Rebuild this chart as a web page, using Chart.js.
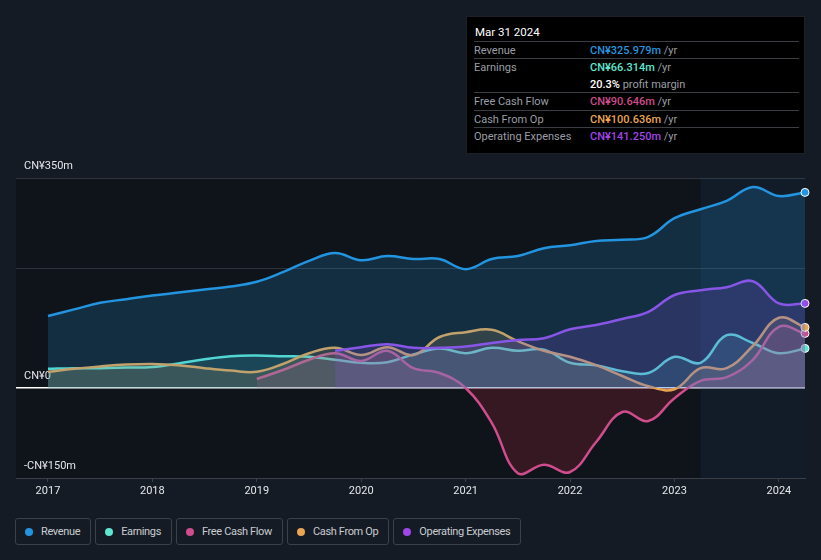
<!DOCTYPE html>
<html>
<head>
<meta charset="utf-8">
<script src="https://cdn.jsdelivr.net/npm/chart.js@4.4.1/dist/chart.umd.min.js"></script>
<style>
  html, body { margin: 0; padding: 0; background: #151b24; font-family: Roboto, 'Open Sans', sans-serif; }
  #wrap { position: relative; width: 821px; height: 560px; overflow: hidden; }
  #box { position: absolute; left: 0; top: 0; width: 821px; height: 505px; }
  #tip { position: absolute; left: 466px; top: 16px; width: 339px; height: 138px; background: #000; box-sizing: border-box; border: 1px solid #1d2127; }
  #tip .head { position: absolute; left: 8px; top: 8px; color: #fff; font-size: 11.5px; }
  #tip .row { position: absolute; left: 7px; width: 325px; height: 17px; font-size: 11px; line-height: 17px; color: #9a9ea5; border-top: 1px solid #3a3d42; }
  #tip .row.nob { border-top: none; }
  #tip .row .v { position: absolute; left: 116px; top: 0; }
  #tip .row .u { color: #9a9ea5; }
  #legend { position: absolute; left: 15px; top: 518px; display: flex; gap: 4px; }
  .lg { height: 27px; box-sizing: border-box; border: 1px solid #3b404a; border-radius: 3px; display: flex; align-items: center; padding: 0 10px 0 9px; color: #c9ccd1; font-size: 11px; letter-spacing: -0.35px; }
  .lg i { width: 8px; height: 8px; border-radius: 50%; display: inline-block; margin-right: 8px; }
</style>
</head>
<body>
<div id="wrap">
  <div id="box"><canvas id="myChart"></canvas></div>
  <div id="tip">
    <div class="head">Mar 31 2024</div>
    <div class="row" style="top:24px">Revenue<span class="v"><b style="color:#2394df;font-weight:500">CN¥325.979m</b> <span class="u">/yr</span></span></div>
    <div class="row" style="top:41px">Earnings<span class="v"><b style="color:#5ee6cf;font-weight:500">CN¥66.314m</b> <span class="u">/yr</span></span></div>
    <div class="row nob" style="top:59px"><span class="v"><b style="color:#fff;font-weight:500">20.3%</b> <span class="u">profit margin</span></span></div>
    <div class="row" style="top:75px">Free Cash Flow<span class="v"><b style="color:#cf4d8c;font-weight:500">CN¥90.646m</b> <span class="u">/yr</span></span></div>
    <div class="row" style="top:93px">Cash From Op<span class="v"><b style="color:#e9a550;font-weight:500">CN¥100.636m</b> <span class="u">/yr</span></span></div>
    <div class="row" style="top:110px">Operating Expenses<span class="v"><b style="color:#a046e8;font-weight:500">CN¥141.250m</b> <span class="u">/yr</span></span></div>
  </div>
  <div id="legend">
    <div class="lg"><i style="background:#2394df"></i>Revenue</div>
    <div class="lg"><i style="background:#5ee6cf"></i>Earnings</div>
    <div class="lg"><i style="background:#cf4d8c"></i>Free Cash Flow</div>
    <div class="lg"><i style="background:#e9a550"></i>Cash From Op</div>
    <div class="lg"><i style="background:#a046e8"></i>Operating Expenses</div>
  </div>
</div>
<script>
// quarterly points, CN¥m
const quarters = [2017.0, 2017.25, 2017.5, 2017.75, 2018.0, 2018.25, 2018.5, 2018.75,
  2019.0, 2019.25, 2019.5, 2019.75, 2020.0, 2020.25, 2020.5, 2020.75,
  2021.0, 2021.25, 2021.5, 2021.75, 2022.0, 2022.25, 2022.5, 2022.75,
  2023.0, 2023.25, 2023.5, 2023.75, 2024.0, 2024.25];
const revenue = [120, 131, 142, 148, 154, 159, 164, 169, 177, 193, 212, 225, 213, 220, 215, 215,
  198, 215, 220, 233, 238, 245, 247, 252, 283, 298, 312, 335, 320, 326];
const earnings = [32, 33, 33, 34, 35, 41, 48, 53, 54, 53, 52, 47, 42, 43, 56, 66,
  58, 67, 62, 64, 42, 38, 28, 25, 52, 42, 88, 75, 58, 66];
const freeCashFlow = [null, null, null, null, null, null, null, null, 15, 30, 47, 58, 45, 62, 33, 25,
  0, -58, -142, -128, -140, -90, -40, -55, -17, 12, 18, 47, 102, 91];
const cashFromOp = [27, 32, 36, 39, 40, 38, 33, 29, 27, 40, 58, 67, 55, 68, 55, 85,
  93, 97, 78, 62, 52, 38, 20, 3, -2, 33, 33, 70, 117, 101];
const opExpenses = [null, null, null, null, null, null, null, null, null, null, null, 62, 68, 73, 67, 67,
  69, 75, 80, 83, 98, 105, 115, 127, 155, 163, 168, 178, 141, 141];
const yearTicks = [2017, 2018, 2019, 2020, 2021, 2022, 2023, 2024];
const yTicks = [-150, 0, 200, 350];
const yLabels = { '-150': '-CN¥150m', '0': 'CN¥0', '350': 'CN¥350m' };
const pastYearStart = 2023.25;

(() => {
  'use strict';

  const last = quarters.length - 1;
  const pts = (vals) => quarters.map((q, i) => ({ x: q, y: vals[i] }));

  const series = (label, vals, color, fillColor, belowColor) => ({
    label: label,
    data: pts(vals),
    borderColor: color,
    backgroundColor: fillColor,
    borderWidth: 2.5,
    tension: 0.4,
    fill: { target: 'origin', above: fillColor, below: belowColor || fillColor },
    clip: false,
    pointRadius: (c) => (c.dataIndex === last ? 4 : 0),
    pointBackgroundColor: color,
    pointBorderColor: '#ffffff',
    pointBorderWidth: 1
  });

  // chart area background + last-year band
  const bgPlugin = {
    id: 'bg',
    beforeDatasetsDraw(chart) {
      const { ctx, chartArea: a, scales } = chart;
      ctx.save();
      const x0 = scales.x.getPixelForValue(pastYearStart);
      ctx.fillStyle = 'rgba(35, 90, 140, 0.13)';
      ctx.fillRect(x0, a.top, a.right - x0, a.bottom - a.top);
      ctx.restore();
    },
    beforeDraw(chart) {
      const { ctx, chartArea: a } = chart;
      ctx.save();
      ctx.fillStyle = '#0f131a';
      ctx.fillRect(a.left, a.top, a.right - a.left, a.bottom - a.top);
      ctx.restore();
    }
  };

  const ctx1 = document.getElementById('myChart');
  const myChart = new Chart(ctx1, {
    type: 'line',
    data: {
      datasets: [
        series('Revenue', revenue, '#2394df', 'rgba(35, 148, 223, 0.2)'),
        series('Operating Expenses', opExpenses, '#a046e8', 'rgba(160, 70, 232, 0.2)'),
        series('Cash From Op', cashFromOp, '#e9a550', 'rgba(233, 165, 80, 0.18)'),
        series('Free Cash Flow', freeCashFlow, '#cf4d8c', 'rgba(207, 77, 140, 0.2)', 'rgba(170, 40, 60, 0.25)'),
        series('Earnings', earnings, '#5ee6cf', 'rgba(94, 230, 207, 0.15)')
      ]
    },
    options: {
      responsive: true,
      maintainAspectRatio: false,
      animation: false,
      events: [],
      layout: { padding: { left: 16, right: 16, top: 178, bottom: 0 } },
      plugins: {
        legend: { display: false },
        tooltip: { enabled: false }
      },
      scales: {
        x: {
          type: 'linear',
          min: 2016.694,
          max: 2024.25,
          afterBuildTicks: (s) => { s.ticks = yearTicks.map((v) => ({ value: v })); },
          afterFit: (s) => { s.height = 27; },
          ticks: {
            color: '#e4e6ea',
            font: { family: 'Roboto', size: 11 },
            padding: 3,
            callback: (v) => String(v)
          },
          grid: { drawOnChartArea: false, color: '#3a3f48', tickLength: 4 },
          border: { color: '#3a3f48', width: 1 }
        },
        y: {
          min: -150,
          max: 350,
          afterBuildTicks: (s) => { s.ticks = yTicks.map((v) => ({ value: v })); },
          afterFit: (s) => { s.width = 0; },
          ticks: {
            mirror: true,
            padding: 8,
            labelOffset: -12,
            color: '#e4e6ea',
            font: { family: 'Roboto', size: 11 },
            callback: (v) => yLabels[String(v)] || ''
          },
          grid: {
            drawTicks: false,
            color: (c) => (c.tick.value === 0 ? '#ffffff' : c.tick.value === -150 ? 'rgba(0,0,0,0)' : '#2f343c'),
            lineWidth: (c) => (c.tick.value === 0 ? 1.5 : 1)
          },
          border: { display: false }
        }
      }
    },
    plugins: [bgPlugin]
  });
})();
</script>
</body>
</html>
